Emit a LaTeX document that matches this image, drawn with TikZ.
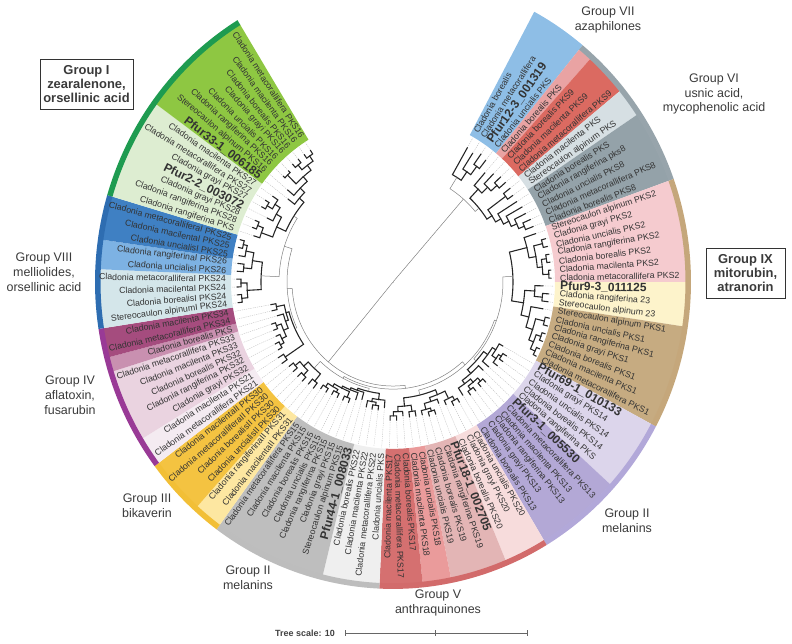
\documentclass[tikz,border=0pt]{standalone}
\usepackage{fontspec}
\setmainfont{Liberation Sans}
\usetikzlibrary{positioning}

% band colours
\definecolor{c7}{HTML}{8EBEE6}
\definecolor{c6a}{HTML}{E9A3A3}
\definecolor{c6b}{HTML}{DB6A61}
\definecolor{c6c}{HTML}{D6DFE3}
\definecolor{c6d}{HTML}{94A2A9}
\definecolor{c9a}{HTML}{F5CBCF}
\definecolor{c9b}{HTML}{FDF3CB}
\definecolor{c9c}{HTML}{C6AB81}
\definecolor{c2a}{HTML}{DCD5EB}
\definecolor{c2b}{HTML}{B3A8D6}
\definecolor{c5a}{HTML}{F7DCDC}
\definecolor{c5b}{HTML}{E3B5B5}
\definecolor{c5c}{HTML}{EA9B9B}
\definecolor{c5d}{HTML}{D57070}
\definecolor{c2c}{HTML}{EFEFEF}
\definecolor{c2d}{HTML}{BEBEBE}
\definecolor{c3a}{HTML}{FDE7A1}
\definecolor{c3b}{HTML}{F4C341}
\definecolor{c4a}{HTML}{F4EBF1}
\definecolor{c4b}{HTML}{EAD3E0}
\definecolor{c4c}{HTML}{C990B0}
\definecolor{c4d}{HTML}{A54C7E}
\definecolor{c8a}{HTML}{D4E6EA}
\definecolor{c8b}{HTML}{7DB2E3}
\definecolor{c8c}{HTML}{3F80C3}
\definecolor{c1a}{HTML}{DDEDD1}
\definecolor{c1b}{HTML}{8EC742}
% outer strips
\definecolor{s7}{HTML}{8EBEE6}
\definecolor{s6}{HTML}{97A4AB}
\definecolor{s9}{HTML}{C5A77B}
\definecolor{s2r}{HTML}{B2A8D9}
\definecolor{s5}{HTML}{D26B6B}
\definecolor{s2l}{HTML}{BDBDBD}
\definecolor{s3}{HTML}{F2BF36}
\definecolor{s4}{HTML}{993A96}
\definecolor{s8}{HTML}{2E6DB1}
\definecolor{s1}{HTML}{1E9B50}
\definecolor{labcol}{HTML}{333333}
\definecolor{grpcol}{HTML}{3A3A3A}

\newcommand\pf[1]{{\bfseries\fontsize{12}{12}\selectfont #1}}
% tree helpers: leaf i sits at angle 61.7-(i-0.5)*2.806
\newcommand\setleaf[2]{\expandafter\xdef\csname tP#1\endcsname{#1}\expandafter\xdef\csname tR#1\endcsname{#2}}
\newcommand\treejoin[5][branch]{%
  \edef\posA{\csname tP#4\endcsname}\edef\radA{\csname tR#4\endcsname}%
  \edef\posB{\csname tP#5\endcsname}\edef\radB{\csname tR#5\endcsname}%
  \pgfmathsetmacro\angA{61.7-(\posA-0.5)*2.806}%
  \pgfmathsetmacro\angB{61.7-(\posB-0.5)*2.806}%
  \draw[#1] (\angA:\radA) -- (\angA:#3) arc[start angle=\angA,end angle=\angB,radius=#3] -- (\angB:\radB);%
  \pgfmathsetmacro\posM{(\posA+\posB)/2}%
  \expandafter\xdef\csname tP#2\endcsname{\posM}%
  \expandafter\xdef\csname tR#2\endcsname{#3}%
}

\begin{document}
\begin{tikzpicture}[x=1bp,y=1bp,
  branch/.style={line width=1.1pt,black!85,line cap=rect},
  deep/.style={line width=0.5pt,gray},
  leader/.style={gray!55,line width=0.35pt,dash pattern=on 1.2pt off 1pt},
  leaflab/.style={font=\fontsize{8.8}{10}\selectfont,text=labcol,inner sep=0pt},
  grplab/.style={font=\fontsize{12.5}{15}\selectfont,align=center,text=grpcol},
  boxlab/.style={draw=black!80,line width=0.8pt,font=\bfseries\fontsize{13}{14}\selectfont,align=center,minimum width=79bp,minimum height=50bp,text=grpcol}]
\useasboundingbox (-393,-362) rectangle (399,282);

\begin{scope}[yscale=1.03]
% coloured ranges
\foreach \i/\j/\c in {1/4/c7,5/5/c6a,6/8/c6b,9/10/c6c,11/15/c6d,16/22/c9a,23/25/c9b,26/32/c9c,
  33/37/c2a,38/43/c2b,44/46/c5a,47/50/c5b,51/52/c5c,53/55/c5d,56/59/c2c,60/67/c2d,
  68/69/c3a,70/73/c3b,74/75/c4a,76/80/c4b,81/81/c4c,82/83/c4d,84/87/c8a,88/89/c8b,90/92/c8c,
  93/99/c1a,100/107/c1b}{
  \pgfmathsetmacro\aa{61.7-(\i-1)*2.806}
  \pgfmathsetmacro\ab{61.7-\j*2.806}
  \fill[fill=\c] (\aa:162) -- (\aa:293) arc[start angle=\aa,end angle=\ab,radius=293] -- (\ab:162) arc[start angle=\ab,end angle=\aa,radius=162] -- cycle;
}
\foreach \i/\j/\c in {1/4/s7,5/15/s6,16/32/s9,33/43/s2r,44/55/s5,56/67/s2l,68/73/s3,74/83/s4,84/92/s8,93/107/s1}{
  \pgfmathsetmacro\aa{61.7-(\i-1)*2.806}
  \pgfmathsetmacro\ab{61.7-\j*2.806}
  \fill[fill=\c] (\aa:292.5) -- (\aa:298) arc[start angle=\aa,end angle=\ab,radius=298] -- (\ab:292.5) arc[start angle=\ab,end angle=\aa,radius=292.5] -- cycle;
}

% tip radii
\foreach \i/\r in {1/150,2/148,3/152,4/150,5/140,6/145,7/148,8/148,9/148,10/146,11/146,12/148,13/148,14/150,15/150,
  16/150,17/158,18/158,19/158,20/158,21/158,22/158,23/150,24/156,25/156,26/152,27/160,28/160,29/160,30/160,31/160,32/160,
  33/126,34/134,35/134,36/132,37/126,38/124,39/134,40/134,41/134,42/134,43/130,
  44/134,45/134,46/130,47/126,48/135,49/135,50/132,51/132,52/132,53/130,54/134,55/134,
  56/122,57/125,58/125,59/124,60/118,61/120,62/125,63/125,64/125,65/125,66/126,67/126,
  68/130,69/130,70/132,71/132,72/132,73/132,74/136,75/136,76/132,77/132,78/128,79/128,80/128,81/120,82/124,83/124,
  84/156,85/156,86/156,87/156,88/156,89/156,90/156,91/158,92/158,
  93/146,94/150,95/150,96/140,97/150,98/150,99/146,100/132,101/138,102/150,103/150,104/152,105/152,106/152,107/152}{
  \setleaf{\i}{\r}
}
\foreach \i in {1,...,107}{
  \pgfmathsetmacro\la{61.7-(\i-0.5)*2.806}
  \edef\rt{\csname tR\i\endcsname}
  \draw[leader] (\la:\rt) -- (\la:161);
}

% group VII
\treejoin{g7c}{140}{3}{4}
\treejoin{g7b}{130}{2}{g7c}
\treejoin{g7}{120}{1}{g7b}
% group VI
\treejoin{g6a}{140}{7}{8}
\treejoin{g6b}{132}{6}{g6a}
\treejoin{g6c}{124}{5}{g6b}
\treejoin{g6d}{140}{9}{10}
\treejoin{g6e}{142}{14}{15}
\treejoin{g6f}{136}{13}{g6e}
\treejoin{g6g}{130}{12}{g6f}
\treejoin{g6h}{124}{11}{g6g}
\treejoin{g6i}{118}{g6d}{g6h}
\treejoin{g6}{112}{g6c}{g6i}
\treejoin[deep]{A}{107}{g7}{g6}
% group IX
\treejoin{g9a}{154}{17}{18}
\treejoin{g9b}{155}{19}{20}
\treejoin{g9c}{156}{21}{22}
\treejoin{g9d}{150}{g9b}{g9c}
\treejoin{g9e}{145}{g9a}{g9d}
\treejoin{g9f}{138}{16}{g9e}
\treejoin{g9g}{150}{24}{25}
\treejoin{g9h}{142}{23}{g9g}
\treejoin{g9i}{156}{27}{28}
\treejoin{g9j}{157}{29}{30}
\treejoin{g9k}{157}{31}{32}
\treejoin{g9l}{152}{g9j}{g9k}
\treejoin{g9m}{147}{g9i}{g9l}
\treejoin{g9n}{140}{26}{g9m}
\treejoin{g9o}{132}{g9h}{g9n}
\treejoin{g9}{120}{g9f}{g9o}
% group II (PKS13, PKS14)
\treejoin{g2a}{130}{34}{35}
\treejoin{g2b}{127}{g2a}{36}
\treejoin{g2c}{122}{33}{g2b}
\treejoin{g2d}{118}{g2c}{37}
\treejoin{g2e}{130}{39}{40}
\treejoin{g2f}{130}{41}{42}
\treejoin{g2g}{126}{g2e}{g2f}
\treejoin{g2h}{122}{g2g}{43}
\treejoin{g2i}{118}{38}{g2h}
\treejoin{g2r}{113}{g2d}{g2i}
% group V
\treejoin{g5a}{130}{44}{45}
\treejoin{g5b}{126}{g5a}{46}
\treejoin{g5c}{131}{48}{49}
\treejoin{g5d}{128}{g5c}{50}
\treejoin{g5e}{122}{47}{g5d}
\treejoin{g5f}{118}{g5b}{g5e}
\treejoin{g5g}{127}{51}{52}
\treejoin{g5h}{130}{54}{55}
\treejoin{g5i}{126}{53}{g5h}
\treejoin{g5j}{121}{g5g}{g5i}
\treejoin{g5}{113}{g5f}{g5j}
% group II (PKS15, PKS22)
\treejoin{g2k}{121}{57}{58}
\treejoin{g2l}{118}{g2k}{59}
\treejoin{g2m}{115}{56}{g2l}
\treejoin{g2n}{121}{62}{63}
\treejoin{g2o}{121}{64}{65}
\treejoin{g2p}{122}{66}{67}
\treejoin{g2q}{118}{g2o}{g2p}
\treejoin{g2s}{115}{g2n}{g2q}
\treejoin{g2t}{113}{61}{g2s}
\treejoin{g2u}{111}{60}{g2t}
\treejoin{g2l2}{109}{g2m}{g2u}
% group III
\treejoin{g3a}{124}{68}{69}
\treejoin{g3b}{127}{70}{71}
\treejoin{g3c}{127}{72}{73}
\treejoin{g3d}{121}{g3b}{g3c}
\treejoin{g3}{115}{g3a}{g3d}
% group IV
\treejoin{g4a}{130}{74}{75}
\treejoin{g4b}{128}{76}{77}
\treejoin{g4c}{124}{g4b}{78}
\treejoin{g4d}{124}{79}{80}
\treejoin{g4e}{119}{g4c}{g4d}
\treejoin{g4f}{114}{g4e}{81}
\treejoin{g4g}{119}{82}{83}
\treejoin{g4h}{111}{g4f}{g4g}
\treejoin{g4}{108}{g4a}{g4h}
% group VIII
\treejoin{g8a}{152}{84}{85}
\treejoin{g8b}{152}{86}{87}
\treejoin{g8c}{146}{g8a}{g8b}
\treejoin{g8d}{150}{88}{89}
\treejoin{g8e}{154}{91}{92}
\treejoin{g8f}{150}{90}{g8e}
\treejoin{g8g}{142}{g8d}{g8f}
\treejoin{g8}{132}{g8c}{g8g}
% group I
\treejoin{g1a}{146}{94}{95}
\treejoin{g1b}{140}{93}{g1a}
\treejoin{g1c}{146}{97}{98}
\treejoin{g1d}{140}{g1c}{99}
\treejoin{g1e}{134}{96}{g1d}
\treejoin{g1f}{128}{g1b}{g1e}
\treejoin{g1g}{148}{102}{103}
\treejoin{g1h}{148}{104}{105}
\treejoin{g1i}{148}{106}{107}
\treejoin{g1j}{142}{g1h}{g1i}
\treejoin{g1k}{136}{g1g}{g1j}
\treejoin{g1l}{130}{101}{g1k}
\treejoin{g1m}{124}{100}{g1l}
\treejoin{g1}{118}{g1f}{g1m}
% backbone
\treejoin[deep]{b1}{110}{g9}{g2r}
\treejoin[deep]{b2}{108}{b1}{g5}
\treejoin[deep]{b3}{106}{g2l2}{g3}
\treejoin[deep]{b4}{104}{b2}{b3}
\treejoin[deep]{b5}{114}{g8}{g1}
\treejoin[deep]{b6}{106}{g4}{b5}
\treejoin[deep]{B}{101}{b4}{b6}
\treejoin[deep]{root}{0.5}{A}{B}

% leaf labels
\foreach \i/\lbl in {1/Cladonia borealis,2/Cladonia metacorallifera,3/\pf{Pfur12-3\_001319},4/Cladonia uncialis PKS,
  5/Cladonia borealis PKS,6/Cladonia borealis PKS9,7/Cladonia macilenta PKS9,8/Cladonia metacorallifera PKS9,
  9/Cladonia macilenta PKS,10/Stereocaulon alpinum PKS,11/Cladonia borealis PKS,12/Cladonia rangiferina pks8,
  13/Cladonia uncialis PKS8,14/Cladonia metacorallifera PKS8,15/Cladonia borealis PKS8,
  16/Stereocaulon alpinum PKS2,17/Cladonia grayi PKS2,18/Cladonia uncialis PKS2,19/Cladonia rangiferina PKS2,
  20/Cladonia borealis PKS2,21/Cladonia macilenta PKS2,22/Cladonia metacorallifera PKS2,
  23/\pf{Pfur9-3\_011125},24/Cladonia rangiferina 23,25/Stereocaulon alpinum 23,
  26/Stereocaulon alpinum PKS1,27/Cladonia uncialis PKS1,28/Cladonia rangiferina PKS1,29/Cladonia grayi PKS1,
  30/Cladonia borealis PKS1,31/Cladonia macilenta PKS1,32/Cladonia metacorallifera PKS1,
  33/\pf{Pfur69-1\_010133},34/Cladonia grayi PKS14,35/Cladonia uncialis PKS14,36/Cladonia borealis PKS14,
  37/Cladonia rangiferina PKS,38/\pf{Pfur3-1\_005530},39/Cladonia metacorallifera PKS13,40/Cladonia macilenta PKS13,
  41/Cladonia rangiferina PKS13,42/Cladonia grayi PKS13,43/Cladonia borealis PKS13,
  44/Cladonia uncialis PKS20,45/Cladonia grayi PKS20,46/Cladonia borealis PKS20,47/\pf{Pfur18-1\_002705},
  48/Cladonia rangiferina PKS19,49/Cladonia borealis PKS19,50/Cladonia uncialis PKS19,
  51/Cladonia uncialis PKS18,52/Cladonia macilenta PKS18,53/Cladonia borealis PKS17,
  54/Cladonia metacorallifera PKS17,55/Cladonia macilenta PKS17,
  56/Cladonia uncialis PKS,57/Cladonia metacorallifera PKS22,58/Cladonia macilenta PKS22,59/Cladonia borealis PKS22,
  60/\pf{Pfur44-1\_008033},61/Stereocaulon alpinum PKS15,62/Cladonia grayi PKS15,63/Cladonia rangiferina PKS15,
  64/Cladonia uncialis PKS15,65/Cladonia borealis PKS15,66/Cladonia macilenta PKS15,67/Cladonia metacorallifera PKS15,
  68/Cladonia macilentaII PKS31,69/Cladonia rangiferinaII PKS31,70/Cladonia uncialisII PKS30,
  71/Cladonia borealisII PKS30,72/Cladonia metacoralliferaII PKS30,73/Cladonia macilentaII PKS30,
  74/Cladonia metacorallifera PKS21,75/Cladonia macilenta PKS21,76/Cladonia grayi PKS32,77/Cladonia rangiferina PKS32,
  78/Cladonia borealis PKS32,79/Cladonia macilenta PKS33,80/Cladonia metacorallifera PKS33,81/Cladonia borealis PKS,
  82/Cladonia metacorallifera PKS34,83/Cladonia macilenta PKS34,
  84/Stereocaulon alpinumI PKS24,85/Cladonia borealisI PKS24,86/Cladonia macilentaI PKS24,87/Cladonia metacoralliferaI PKS24,
  88/Cladonia uncialisI PKS26,89/Cladonia rangiferinaI PKS26,90/Cladonia uncialisI PKS25,91/Cladonia macilentaI PKS25,
  92/Cladonia metacoralliferaI PKS25,
  93/Cladonia rangiferina PKS,94/Cladonia rangiferina PKS28,95/Cladonia grayi PKS28,96/\pf{Pfur2-2\_003072},
  97/Cladonia grayi PKS27,98/Cladonia metacorallifera PKS27,99/Cladonia macilenta PKS27,100/\pf{Pfur33-1\_006185},
  101/Stereocaulon alpinum PKS16,102/Cladonia rangiferina PKS16,103/Cladonia uncialis PKS16,104/Cladonia grayi PKS16,
  105/Cladonia borealis PKS16,106/Cladonia macilenta PKS16,107/Cladonia metacorallifera PKS16}{
  \pgfmathsetmacro\la{61.7-(\i-0.5)*2.806}
  \ifnum\i<55
    \node[leaflab,anchor=west,rotate=\la] (leaf\i) at (\la:167) {\lbl};
  \else
    \pgfmathsetmacro\lb{\la+180}
    \node[leaflab,anchor=east,rotate=\lb] (leaf\i) at (\la:167) {\lbl};
  \fi
}
\end{scope}

% group captions
\node[boxlab] (grpI) at (-306.5,198) {Group I\\zearalenone,\\orsellinic acid};
\node[boxlab] (grpIX) at (352.5,9) {Group IX\\mitorubin,\\atranorin};
\node[grplab] (grpVII) at (215,262) {Group VII\\azaphilones};
\node[grplab] (grpVI) at (321,188) {Group VI\\usnic acid,\\mycophenolic acid};
\node[grplab] (grpVIII) at (-349,10) {Group VIII\\melliolides,\\orsellinic acid};
\node[grplab] (grpIV) at (-323,-113) {Group IV\\aflatoxin,\\fusarubin};
\node[grplab] (grpIII) at (-246,-224) {Group III\\bikaverin};
\node[grplab] (grpIIa) at (-145,-296) {Group II\\melanins};
\node[grplab] (grpV) at (45,-321) {Group V\\anthraquinones};
\node[grplab] (grpIIb) at (234,-239) {Group II\\melanins};

% tree scale
\node[font=\bfseries\fontsize{9}{10}\selectfont,text=black!75] (scl) at (-88,-351) {Tree scale: 10};
\coordinate (barL) at (-48,-351);
\coordinate (barR) at (134,-351);
\draw[gray!80!black,line width=0.5pt] (barL) -- (barR);
\foreach \x in {-48,42,134}{\draw[gray!80!black,line width=0.5pt] (\x,-348) -- (\x,-354);}
\end{tikzpicture}
\end{document}
